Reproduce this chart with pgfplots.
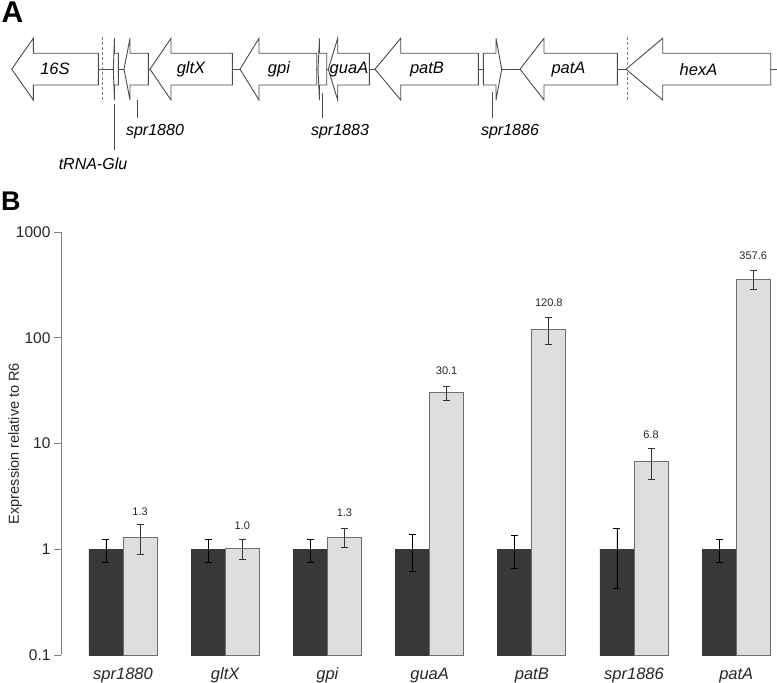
\documentclass[border=0pt]{standalone}
\usepackage{pgfplots}
\pgfplotsset{compat=1.18}
\usepackage{fontspec}
\setmainfont{Liberation Sans}
\definecolor{darkbar}{HTML}{383838}
\definecolor{lightbar}{HTML}{DEDEDE}
\definecolor{lightedge}{HTML}{6E6E6E}
\definecolor{genecol}{HTML}{4A4A4A}
\newcommand{\fs}[1]{\fontsize{#1}{#1}\selectfont}
\begin{document}
\begin{tikzpicture}
\path[use as bounding box] (0pt,0pt) rectangle (777pt,683pt);
% ---------------- Panel B : bar chart
\begin{axis}[at={(61pt,28pt)}, anchor=south west, scale only axis, width=716pt, height=423pt,
  ymode=log, log origin=infty, ymin=0.1, ymax=1000, xmin=-0.6067, xmax=6.399,
  axis y line=left, axis x line=bottom,
  x axis line style={draw=none},
  y axis line style={-, color=gray, line width=0.9pt},
  ytick={0.1,1,10,100,1000}, yticklabels={0.1,1,10,100,1000},
  yminorticks=false, tick align=outside, major tick length=7pt,
  ytick style={gray, line width=0.9pt},
  yticklabel style={font=\fs{15.5}, color=black!85},
  xtick={0,1,2,3,4,5,6},
  xticklabels={spr1880,gltX,gpi,guaA,patB,spr1886,patA},
  xtick style={draw=none},
  xticklabel style={font=\fs{16.5}\itshape, anchor=base, yshift=-18pt, color=black!85},
  ylabel={Expression relative to R6},
  every axis y label/.style={at={(axis description cs:-0.0642,0.5)}, rotate=90, anchor=center, font=\fs{14.5}, color=black!85},
  clip=false]
  % R6 (dark) bars, left half of each group
  \addplot[ybar, bar width=0.333, bar shift=0, fill=darkbar, draw=darkbar, line width=0.6pt,
    error bars/.cd, y dir=both, y explicit,
    error bar style={black, line width=0.8pt},
    error mark options={rotate=90, black, line width=0.8pt, mark size=3.5pt}]
    coordinates {(-0.1667,1) +- (0,0.25) (0.8333,1) +- (0,0.25) (1.8333,1) +- (0,0.25) (2.8333,1) +- (0,0.38)
                 (3.8333,1) +- (0,0.34) (4.8333,1) +- (0,0.57) (5.8333,1) +- (0,0.25)};
  % mutant (light) bars, right half of each group
  \addplot[ybar, bar width=0.333, bar shift=0, fill=lightbar, draw=lightedge, line width=0.9pt,
    error bars/.cd, y dir=both, y explicit,
    error bar style={black!80, line width=0.8pt},
    error mark options={rotate=90, black!80, line width=0.8pt, mark size=3.5pt}]
    coordinates {(0.1667,1.3) +- (0,0.4) (1.1667,1.02) +- (0,0.21) (2.1667,1.3) +- (0,0.26) (3.1667,30.1) +- (0,4.6)
                 (4.1667,120.8) +- (0,35) (5.1667,6.8) +- (0,2.2) (6.1667,357.6) +- (0,73)};
  % value labels
  \addplot[only marks, mark=*, mark size=0pt, mark options={draw=none, fill=none},
    nodes near coords, point meta=explicit symbolic,
    nodes near coords style={anchor=center, font=\fs{11}, color=black!85}]
    coordinates {(0.1667,2.25) [1.3] (1.1667,1.66) [1.0] (2.1667,2.2) [1.3] (3.1667,48.8) [30.1]
                 (4.1667,214) [120.8] (5.1667,12.2) [6.8] (6.1667,594) [357.6]};
\end{axis}
% ---------------- Panel A : gene map (pixel coordinates, y downwards)
\begin{axis}[at={(0pt,0pt)}, anchor=south west, scale only axis, width=777pt, height=683pt,
  xmin=0, xmax=777, ymin=0, ymax=683, y dir=reverse, hide axis, clip=false]
  % backbone
  \addplot[genecol, line width=0.9pt, mark=none] coordinates {(98.3,69.2) (777,69.2)};
  % dashed boundaries
  \addplot[gray, line width=0.8pt, dash pattern=on 3pt off 2pt, mark=none] coordinates {(102.7,37.5) (102.7,100.5)};
  \addplot[gray, line width=0.8pt, dash pattern=on 3pt off 2pt, mark=none] coordinates {(627.3,37.5) (627.3,100.5)};
  % genes (left pointing): tip, head base, right end
  \addplot[draw=genecol, fill=white, line width=0.9pt, mark=none] coordinates {(11.7,69.2) (33.3,38.3) (33.3,53.3) (98.3,53.3) (98.3,85) (33.3,85) (33.3,100)} -- cycle;
  \addplot[draw=genecol, fill=white, line width=0.9pt, mark=none] coordinates {(113.3,69.2) (114.5,38.3) (114.5,53.3) (118.3,53.3) (118.3,85) (114.5,85) (114.5,100)} -- cycle;
  \addplot[draw=genecol, fill=white, line width=0.9pt, mark=none] coordinates {(124,69.2) (130,38.3) (130,53.3) (148.3,53.3) (148.3,85) (130,85) (130,100)} -- cycle;
  \addplot[draw=genecol, fill=white, line width=0.9pt, mark=none] coordinates {(150,69.2) (171,38.3) (171,53.3) (232.3,53.3) (232.3,85) (171,85) (171,100)} -- cycle;
  \addplot[draw=genecol, fill=white, line width=0.9pt, mark=none] coordinates {(240,69.2) (259,38.3) (259,53.3) (316.7,53.3) (316.7,85) (259,85) (259,100)} -- cycle;
  \addplot[draw=genecol, fill=white, line width=0.9pt, mark=none] coordinates {(318,69.2) (319.5,38.3) (319.5,53.3) (326.7,53.3) (326.7,85) (319.5,85) (319.5,100)} -- cycle;
  \addplot[draw=genecol, fill=white, line width=0.9pt, mark=none] coordinates {(328.3,69.2) (337.7,38.3) (337.7,53.3) (369.3,53.3) (369.3,85) (337.7,85) (337.7,100)} -- cycle;
  \addplot[draw=genecol, fill=white, line width=0.9pt, mark=none] coordinates {(375,69.2) (400.7,38.3) (400.7,53.3) (478.3,53.3) (478.3,85) (400.7,85) (400.7,100)} -- cycle;
  % spr1886 (right pointing)
  \addplot[draw=genecol, fill=white, line width=0.9pt, mark=none] coordinates {(483.3,53.3) (496,53.3) (496,38.3) (501.7,69.2) (496,100) (496,85) (483.3,85)} -- cycle;
  \addplot[draw=genecol, fill=white, line width=0.9pt, mark=none] coordinates {(520,69.2) (544,38.3) (544,53.3) (617.3,53.3) (617.3,85) (544,85) (544,100)} -- cycle;
  \addplot[draw=genecol, fill=white, line width=0.9pt, mark=none] coordinates {(626,69.2) (662.7,38.3) (662.7,53.3) (770.7,53.3) (770.7,85) (662.7,85) (662.7,100)} -- cycle;
  % leader lines
  \addplot[genecol, line width=0.9pt, mark=none] coordinates {(114.3,104) (114.3,150)};
  \addplot[genecol, line width=0.9pt, mark=none] coordinates {(137,100) (137,118)};
  \addplot[genecol, line width=0.9pt, mark=none] coordinates {(322,93) (322,118)};
  \addplot[genecol, line width=0.9pt, mark=none] coordinates {(492.7,92) (492.7,118)};
  % gene names
  \node[font=\fs{16.5}\itshape] at (axis cs:55,69.2) {16S};
  \node[font=\fs{16.5}\itshape] at (axis cs:191,69.2) {gltX};
  \node[font=\fs{16.5}\itshape] at (axis cs:279,69.2) {gpi};
  \node[font=\fs{16.5}\itshape] at (axis cs:349,69.2) {guaA};
  \node[font=\fs{16.5}\itshape] at (axis cs:427,69.2) {patB};
  \node[font=\fs{16.5}\itshape] at (axis cs:568.5,69.2) {patA};
  \node[font=\fs{16.5}\itshape] at (axis cs:698.5,69.2) {hexA};
  \node[font=\fs{16}\itshape] at (axis cs:93,164) {tRNA-Glu};
  \node[font=\fs{16}\itshape] at (axis cs:155,132) {spr1880};
  \node[font=\fs{16}\itshape] at (axis cs:340,132) {spr1883};
  \node[font=\fs{16}\itshape] at (axis cs:510,132) {spr1886};
  % panel letters
  \node[font=\fs{30}\bfseries, anchor=north west, inner sep=0pt] at (axis cs:1.5,2) {A};
  \node[font=\fs{27}\bfseries, anchor=north west, inner sep=0pt] at (axis cs:1,192) {B};
\end{axis}
\end{tikzpicture}
\end{document}
